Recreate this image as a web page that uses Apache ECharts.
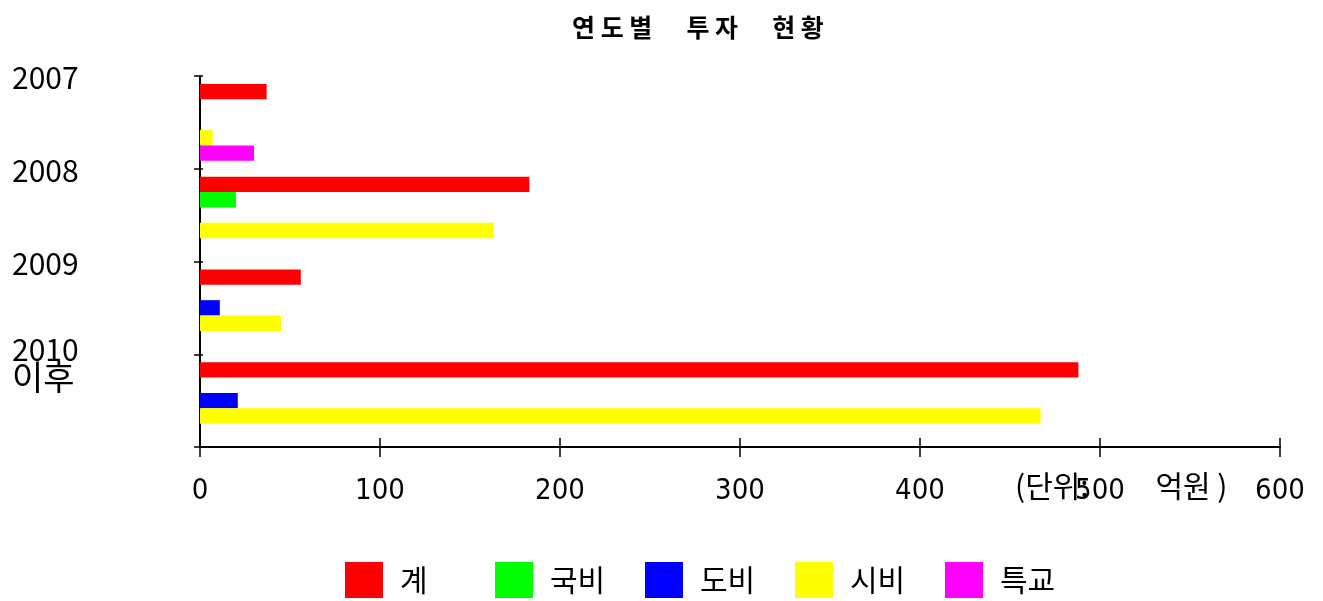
<!DOCTYPE html>
<html>
<head>
<meta charset="utf-8">
<script src="https://cdn.jsdelivr.net/npm/echarts@6/dist/echarts.min.js"></script>
<style>
html,body{margin:0;padding:0;background:#fff;}
#chart{width:1323px;height:601px;}
</style>
</head>
<body>
<div id="chart"></div>
<script>
// ---- data ----
const categories = ['2007', '2008', '2009', '2010\n이후'];
const seriesNames = ['계', '국비', '도비', '시비', '특교'];
const total    = [37, 183, 56, 488];      // 계
const national = [null, 20, null, null];  // 국비
const province = [null, null, 11, 21];    // 도비
const city     = [7, 163, 45, 467];       // 시비
const special  = [30, null, null, null];  // 특교
const xTicks = [0, 100, 200, 300, 400, 500, 600];
const titleText = '연 도 별      투 자      현 황';
const unitText = '(단위:\u3000\u3000 억원 )';

const colors = ['#FF0000', '#00FF00', '#0000FF', '#FFFF00', '#FF00FF'];
const values = [total, national, province, city, special];

const chart = echarts.init(document.getElementById('chart'), null, {renderer: 'canvas'});
const KR = "'Noto Sans CJK KR', 'Liberation Sans', sans-serif";
const NARROW = "'Liberation Sans Narrow', 'DejaVu Sans Condensed', 'Liberation Sans', sans-serif";

function yLabel(v) {
  if (!v) return '';
  const parts = v.split('\n');
  if (parts.length > 1) {
    return '{s| }\n' + parts.map(p => (/^\d+$/.test(p) ? '{a|' : '{k|') + p + '}').join('\n');
  }
  return '{t| }\n{a|' + v + '}';
}

const legends = seriesNames.map((name, i) => ({
  left: 340 + i * 150,
  top: 557,
  itemWidth: 38,
  itemHeight: 36,
  icon: 'rect',
  data: [name],
  textStyle: {fontFamily: KR, fontSize: 30, color: '#000', padding: [0, 0, 0, 12]}
}));

const option = {
  animation: false,
  backgroundColor: '#ffffff',
  title: {
    text: titleText,
    left: 567,
    top: 10,
    textStyle: {fontFamily: KR, fontSize: 25, fontWeight: 'bold', color: '#000'}
  },
  legend: legends,
  grid: {left: 200, right: 43, top: 76, bottom: 154, containLabel: false},
  xAxis: [{
    type: 'value',
    min: xTicks[0],
    max: xTicks[xTicks.length - 1],
    interval: xTicks[1] - xTicks[0],
    axisLine: {show: true, lineStyle: {color: '#000', width: 2}},
    axisTick: {show: true, length: 10, lineStyle: {color: '#000', width: 1.5}},
    axisLabel: {fontFamily: NARROW, fontSize: 29, color: '#000', margin: 30},
    splitLine: {show: false}
  }, {
    type: 'value',
    position: 'bottom',
    min: xTicks[0],
    max: xTicks[xTicks.length - 1],
    interval: xTicks[1] - xTicks[0],
    axisLine: {show: false},
    axisTick: {show: true, inside: true, length: 9, lineStyle: {color: '#000', width: 1.5}},
    axisLabel: {show: false},
    splitLine: {show: false}
  }],
  yAxis: [{
    type: 'category',
    inverse: true,
    data: categories,
    axisLine: {show: true, lineStyle: {color: '#000', width: 2}},
    axisTick: {show: true, length: 6, lineStyle: {color: '#000', width: 1.5}},
    axisLabel: {show: false},
    splitLine: {show: false}
  }, {
    type: 'category',
    position: 'left',
    inverse: true,
    boundaryGap: false,
    data: categories.concat(['']),
    axisLine: {show: false},
    axisTick: {show: true, inside: true, length: 3, interval: 0, lineStyle: {color: '#000', width: 1.5}},
    axisLabel: {
      interval: 0,
      align: 'left',
      margin: 188,
      formatter: yLabel,
      rich: {
        a: {fontFamily: KR, fontSize: 30, lineHeight: 27, color: '#000'},
        k: {fontFamily: KR, fontSize: 34, lineHeight: 27, color: '#000'},
        s: {fontSize: 10, lineHeight: 18},
        t: {fontSize: 4, lineHeight: 4}
      }
    },
    splitLine: {show: false}
  }],
  series: seriesNames.map((name, i) => ({
    name: name,
    type: 'bar',
    xAxisIndex: 0,
    yAxisIndex: 0,
    data: values[i],
    barGap: '0%',
    barCategoryGap: '17%',
    itemStyle: {color: colors[i]}
  })),
  graphic: [{
    type: 'text',
    left: 1015,
    top: 471,
    style: {text: unitText, fontFamily: KR, fontSize: 30, fill: '#000'}
  }]
};
chart.setOption(option);
</script>
</body>
</html>
